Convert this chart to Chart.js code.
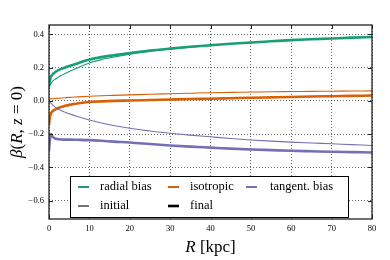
<!DOCTYPE html>
<html>
<head>
<meta charset="utf-8">
<script src="https://cdn.jsdelivr.net/npm/chart.js@4"></script>
<style>
  body { margin: 0; background: #fff; }
  #chart { display: block; }
</style>
</head>
<body>
<canvas id="chart" width="390" height="260"></canvas>
<script>
// radius in kpc
var R = [0, 0.2, 0.5, 1, 1.5, 2, 3, 4, 5, 7, 10, 13, 16, 20, 25, 30, 35, 40, 45, 50, 55, 60, 65, 70, 75, 80];

var radialInitial = [0.075, 0.09, 0.105, 0.12, 0.13, 0.138, 0.152, 0.165, 0.176, 0.198, 0.228, 0.248, 0.263, 0.28, 0.298, 0.312, 0.323, 0.333, 0.342, 0.35, 0.358, 0.364, 0.37, 0.375, 0.379, 0.383];
var radialFinal = [0.09, 0.12, 0.145, 0.162, 0.172, 0.18, 0.192, 0.201, 0.209, 0.225, 0.248, 0.263, 0.274, 0.287, 0.302, 0.314, 0.325, 0.334, 0.343, 0.351, 0.358, 0.365, 0.37, 0.375, 0.38, 0.384];

var isoInitial = [0.01, 0.011, 0.012, 0.013, 0.014, 0.015, 0.017, 0.019, 0.021, 0.024, 0.028, 0.031, 0.033, 0.036, 0.04, 0.043, 0.046, 0.049, 0.051, 0.053, 0.055, 0.056, 0.057, 0.058, 0.059, 0.06];
var isoFinal = [-0.145, -0.1, -0.075, -0.06, -0.052, -0.046, -0.037, -0.03, -0.024, -0.016, -0.007, -0.003, 0.0, 0.002, 0.005, 0.008, 0.011, 0.013, 0.016, 0.019, 0.021, 0.023, 0.026, 0.028, 0.03, 0.032];

var tanInitial = [0.0, -0.006, -0.014, -0.027, -0.036, -0.045, -0.058, -0.069, -0.078, -0.094, -0.115, -0.133, -0.148, -0.165, -0.181, -0.195, -0.206, -0.216, -0.226, -0.235, -0.242, -0.248, -0.253, -0.258, -0.263, -0.268];
var tanFinal = [-0.3, -0.24, -0.2, -0.218, -0.226, -0.229, -0.232, -0.233, -0.233, -0.234, -0.236, -0.24, -0.245, -0.25, -0.259, -0.268, -0.275, -0.281, -0.287, -0.292, -0.296, -0.3, -0.303, -0.306, -0.308, -0.31];

var xTicks = [0, 10, 20, 30, 40, 50, 60, 70, 80];
var yTicks = [0.4, 0.2, 0.0, -0.2, -0.4, -0.6];
var yTickLabels = ["0.4", "0.2", "0.0", "\u22120.2", "\u22120.4", "\u22120.6"];

var modelNames = ["radial bias", "isotropic", "tangent. bias"];
var modelColors = ["#1b9e77", "#d95f02", "#7570b3"];
var stageNames = ["initial", "final"];

var SERIF = "'Liberation Serif', 'DejaVu Serif', serif";

function points(values) {
  return R.map(function (r, i) {
    return { x: r, y: values[i] };
  });
}

function line(values, color, thick) {
  return {
    data: points(values),
    borderColor: color,
    borderWidth: thick ? 2.6 : 1.1,
    pointRadius: 0,
    cubicInterpolationMode: "monotone",
    fill: false
  };
}

var datasets = [
  line(radialInitial, modelColors[0], false),
  line(isoInitial, modelColors[1], false),
  line(tanInitial, modelColors[2], false),
  line(radialFinal, modelColors[0], true),
  line(isoFinal, modelColors[1], true),
  line(tanFinal, modelColors[2], true)
];

// frame, inward ticks, legend box and axis titles
var decorations = {
  id: "decorations",
  afterDatasetsDraw: function (chart) {
    var ctx = chart.ctx;
    var a = chart.chartArea;
    var xs = chart.scales.x;
    var ys = chart.scales.y;

    ctx.save();
    ctx.strokeStyle = "#222";
    ctx.lineWidth = 1;
    xTicks.forEach(function (t) {
      var px = Math.round(xs.getPixelForValue(t)) + 0.5;
      ctx.beginPath();
      ctx.moveTo(px, a.bottom); ctx.lineTo(px, a.bottom - 4);
      ctx.moveTo(px, a.top); ctx.lineTo(px, a.top + 4);
      ctx.stroke();
    });
    yTicks.forEach(function (t) {
      var py = Math.round(ys.getPixelForValue(t)) + 0.5;
      ctx.beginPath();
      ctx.moveTo(a.left, py); ctx.lineTo(a.left + 4, py);
      ctx.moveTo(a.right, py); ctx.lineTo(a.right - 4, py);
      ctx.stroke();
    });
    ctx.lineWidth = 1.3;
    ctx.strokeRect(a.left, a.top, a.right - a.left, a.bottom - a.top);

    // legend
    var bx = 70.5, by = 176.5, bw = 278, bh = 41;
    ctx.fillStyle = "#fff";
    ctx.fillRect(bx, by, bw, bh);
    ctx.strokeStyle = "#000";
    ctx.lineWidth = 1;
    ctx.strokeRect(bx, by, bw, bh);

    var handleX = [78, 168, 246];
    var textX = [100, 190, 270];
    var rowY = [187, 206];
    ctx.font = "12.5px " + SERIF;
    ctx.textBaseline = "middle";
    ctx.textAlign = "left";
    modelNames.forEach(function (name, i) {
      ctx.strokeStyle = modelColors[i];
      ctx.lineWidth = 2;
      ctx.beginPath();
      ctx.moveTo(handleX[i], rowY[0]); ctx.lineTo(handleX[i] + 11, rowY[0]);
      ctx.stroke();
      ctx.fillStyle = "#000";
      ctx.fillText(name, textX[i], rowY[0]);
    });
    stageNames.forEach(function (name, i) {
      ctx.strokeStyle = "#000";
      ctx.lineWidth = i === 0 ? 1.1 : 2.6;
      ctx.beginPath();
      ctx.moveTo(handleX[i], rowY[1]); ctx.lineTo(handleX[i] + 11, rowY[1]);
      ctx.stroke();
      ctx.fillStyle = "#000";
      ctx.fillText(name, textX[i], rowY[1]);
    });
    ctx.restore();

    drawTitles(chart);
  }
};

function drawParts(ctx, parts, cx, cy) {
  var total = 0;
  parts.forEach(function (p) {
    ctx.font = (p[1] ? "italic " : "") + "17px " + SERIF;
    total += ctx.measureText(p[0]).width;
  });
  var x = cx - total / 2;
  parts.forEach(function (p) {
    ctx.font = (p[1] ? "italic " : "") + "17px " + SERIF;
    ctx.fillText(p[0], x, cy);
    x += ctx.measureText(p[0]).width;
  });
}

function drawTitles(chart) {
  var ctx = chart.ctx;
  var a = chart.chartArea;
  ctx.save();
  ctx.fillStyle = "#000";
  ctx.textBaseline = "alphabetic";
  ctx.textAlign = "left";
  drawParts(ctx, [["R", true], [" [kpc]", false]], (a.left + a.right) / 2, 252);
  ctx.translate(22, (a.top + a.bottom) / 2);
  ctx.rotate(-Math.PI / 2);
  drawParts(ctx, [["\u03b2", true], ["(", false], ["R", true], [", ", false], ["z", true], [" = 0)", false]], 0, 0);
  ctx.restore();
}

var ctx = document.getElementById("chart").getContext("2d");
var myChart = new Chart(ctx, {
  type: "line",
  data: { datasets: datasets },
  options: {
    responsive: false,
    animation: false,
    devicePixelRatio: 1,
    layout: { padding: { left: 0, top: 25, right: 18, bottom: 0 } },
    plugins: {
      legend: { display: false },
      tooltip: { enabled: false }
    },
    scales: {
      x: {
        type: "linear",
        min: 0,
        max: 80,
        afterBuildTicks: function (scale) {
          scale.ticks = xTicks.map(function (v) { return { value: v }; });
        },
        afterFit: function (scale) { scale.height = 41; },
        ticks: {
          color: "#000",
          font: { family: SERIF, size: 8.5 },
          padding: 5,
          maxRotation: 0,
          callback: function (v) { return String(v); }
        },
        grid: { color: "rgba(0,0,0,0.75)", lineWidth: 0.8, drawTicks: false },
        border: { display: false, dash: [1, 2] }
      },
      y: {
        type: "linear",
        min: -0.71,
        max: 0.456,
        afterBuildTicks: function (scale) {
          scale.ticks = yTicks.map(function (v) { return { value: v }; });
        },
        afterFit: function (scale) { scale.width = 49; },
        ticks: {
          color: "#000",
          font: { family: SERIF, size: 8.5 },
          padding: 5,
          callback: function (v, i) { return yTickLabels[i]; }
        },
        grid: { color: "rgba(0,0,0,0.75)", lineWidth: 0.8, drawTicks: false },
        border: { display: false, dash: [1, 2] }
      }
    }
  },
  plugins: [decorations]
});
</script>
</body>
</html>
